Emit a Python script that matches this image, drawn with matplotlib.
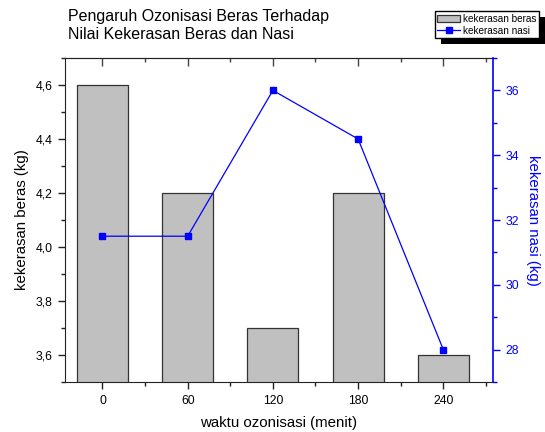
import matplotlib
matplotlib.use("Agg")
import matplotlib.pyplot as plt
from matplotlib.patches import Rectangle
from matplotlib.ticker import MultipleLocator, FuncFormatter

plt.rcParams['font.family'] = ['Liberation Sans', 'DejaVu Sans']

# data
waktu = [0, 60, 120, 180, 240]
kekerasan_beras = [4.6, 4.2, 3.7, 4.2, 3.6]
kekerasan_nasi = [31.5, 31.5, 36.0, 34.5, 28.0]

biru = '#0000FF'

fig = plt.figure(figsize=(5.45, 4.32), dpi=100)
ax = fig.add_axes([65 / 545, 1 - 382 / 432, 428 / 545, 324 / 432])

bars = ax.bar(waktu, kekerasan_beras, width=36, color='#C0C0C0',
              edgecolor='#333333', linewidth=0.9, zorder=2,
              label='kekerasan beras')
ax.set_xlim(-26.4, 275)
ax.set_ylim(3.5, 4.7)
ax.set_xticks(waktu)
ax.xaxis.set_minor_locator(MultipleLocator(30))
ax.yaxis.set_major_locator(MultipleLocator(0.2))
ax.yaxis.set_minor_locator(MultipleLocator(0.1))
koma = FuncFormatter(lambda v, p: ('%.1f' % v).replace('.', ','))
ax.yaxis.set_major_formatter(koma)
ax.tick_params(which='major', direction='out', length=5, width=1,
               labelsize=8.8, color='#222222', pad=4)
ax.tick_params(which='minor', direction='out', length=3, width=1,
               color='#222222')
ax.spines['right'].set_visible(False)
for s in ['left', 'top', 'bottom']:
    ax.spines[s].set_color('#222222')
ax.set_xlabel('waktu ozonisasi (menit)', fontsize=10.8, labelpad=7)
ax.set_ylabel('kekerasan beras (kg)', fontsize=10.8, labelpad=5)

# ticks on the top edge point inward
top = ax.secondary_xaxis('top')
top.set_xticks(waktu)
top.xaxis.set_minor_locator(MultipleLocator(30))
top.tick_params(which='major', direction='in', length=6, width=1,
                labeltop=False, color='#444444')
top.tick_params(which='minor', direction='in', length=3, width=1,
                color='#444444')
top.spines['top'].set_color('#444444')

ax2 = ax.twinx()
garis, = ax2.plot(waktu, kekerasan_nasi, color=biru, linewidth=0.9,
                  marker='s', markersize=5, label='kekerasan nasi')
ax2.set_ylim(27, 37)
ax2.yaxis.set_major_locator(MultipleLocator(2))
ax2.yaxis.set_minor_locator(MultipleLocator(1))
ax2.tick_params(axis='y', which='major', direction='out', length=5,
                width=1, colors=biru, labelsize=8.8, pad=4)
ax2.tick_params(axis='y', which='minor', direction='out', length=3,
                width=1, colors=biru)
ax2.spines['right'].set_color(biru)
ax2.spines['right'].set_linewidth(1.2)
ax2.spines['left'].set_visible(False)
ax2.spines['top'].set_visible(False)
ax2.spines['bottom'].set_visible(False)
ax2.set_ylabel('kekerasan nasi (kg)', fontsize=10.8, color=biru,
               rotation=270, labelpad=15)

fig.text(68 / 545, 1 - 9 / 432,
         'Pengaruh Ozonisasi Beras Terhadap\nNilai Kekerasan Beras dan Nasi',
         fontsize=11.5, va='top', ha='left', linespacing=1.25)

leg = fig.legend([bars, garis], ['kekerasan beras', 'kekerasan nasi'],
                 loc='upper right', bbox_to_anchor=(539 / 545, 1 - 11 / 432),
                 fontsize=7.2, frameon=True, fancybox=False, edgecolor='black',
                 framealpha=1, borderpad=0.25, handlelength=2.3,
                 handletextpad=0.3, labelspacing=0.2, borderaxespad=0)
leg.get_frame().set_linewidth(1)

# black drop shadow behind the legend box
fig.canvas.draw()
bb = leg.get_window_extent().transformed(fig.transFigure.inverted())
dx, dy = 6 / 545, 6 / 432
fig.patches.append(Rectangle((bb.x0 + dx, bb.y0 - dy), bb.width, bb.height,
                             transform=fig.transFigure, facecolor='black',
                             edgecolor='none', zorder=1))

fig.savefig('out.png', dpi=100)
